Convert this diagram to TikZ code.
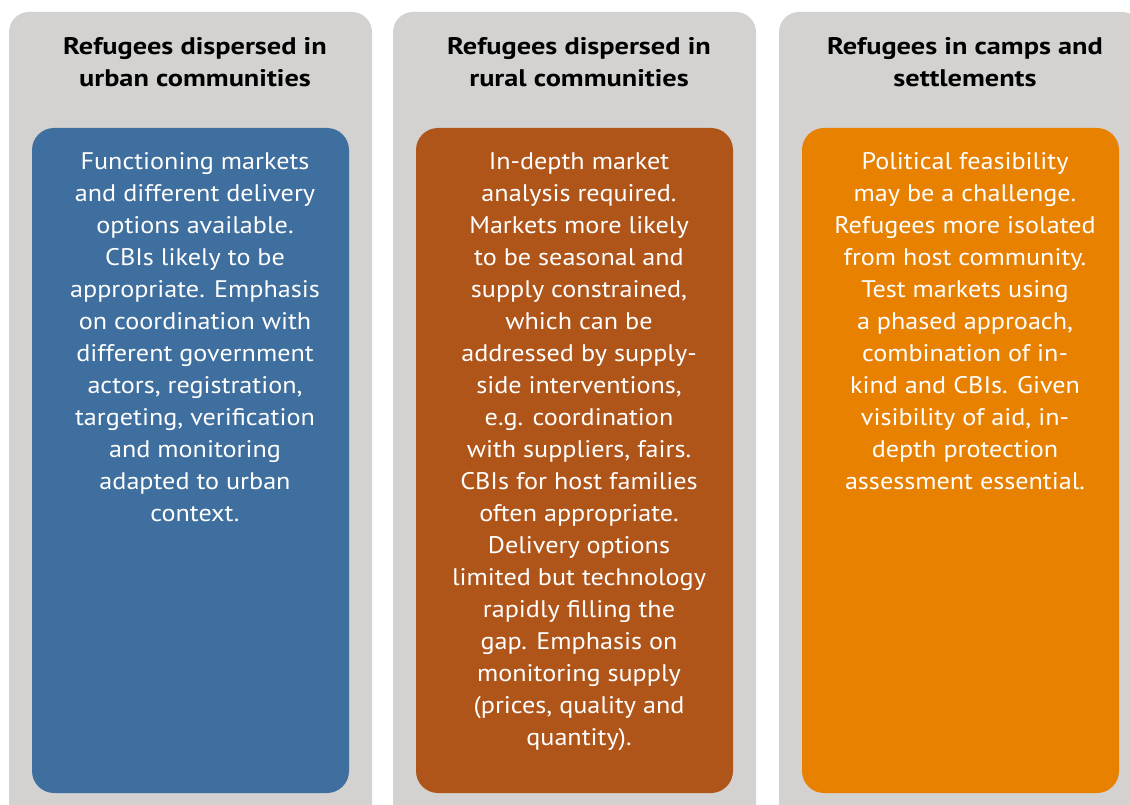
\documentclass[tikz,border=0pt]{standalone}
\usepackage{fontspec}
\setmainfont{PT Sans}[FakeStretch=1.09, BoldFeatures={FakeStretch=1.18}]
\definecolor{colgray}{HTML}{D3D2D0}
\definecolor{urbanblue}{HTML}{3F6F9E}
\definecolor{ruralrust}{HTML}{B0551A}
\definecolor{camporange}{HTML}{E88100}

\begin{document}
\begin{tikzpicture}[x=1pt,y=-1pt,
  title/.style={font=\fontsize{24}{32}\selectfont\bfseries, align=center, anchor=north, inner sep=0pt},
  body/.style={font=\fontsize{24}{32}\selectfont, text=white, align=center, anchor=north, inner sep=0pt}]

\useasboundingbox (0,0) rectangle (1130,805);
\clip (0,0) rectangle (1130,805);

% grey columns
\fill[colgray, rounded corners=20pt] (9,12) rectangle (372,830);
\fill[colgray, rounded corners=20pt] (393,12) rectangle (756,830);
\fill[colgray, rounded corners=20pt] (779,12) rectangle (1142,830);

% coloured boxes
\fill[urbanblue, rounded corners=22pt] (32,128) rectangle (349,793);
\fill[ruralrust, rounded corners=22pt] (416,128) rectangle (733,793);
\fill[camporange, rounded corners=22pt] (802,128) rectangle (1119,793);

% titles
\node (urbantitle) at (195,37.5)[title] {Refugees dispersed in\\urban communities};
\node (ruraltitle) at (579,37.5)[title] {Refugees dispersed in\\rural communities};
\node (camptitle) at (965,37.5)[title] {Refugees in camps and\\settlements};

% texts
\node (urbantext) at (195,152)[body] {Functioning markets\\and different delivery\\options available.\\CBIs likely to be\\appropriate. Emphasis\\on coordination with\\different government\\actors, registration,\\targeting, verification\\and monitoring\\adapted to urban\\context.};
\node (ruraltext) at (579,152)[body] {In-depth market\\analysis required.\\Markets more likely\\to be seasonal and\\supply constrained,\\which can be\\addressed by supply-\\side interventions,\\e.g. coordination\\with suppliers, fairs.\\CBIs for host families\\often appropriate.\\Delivery options\\limited but technology\\rapidly filling the\\gap. Emphasis on\\monitoring supply\\(prices, quality and\\quantity).};
\node (camptext) at (965,152)[body] {Political feasibility\\may be a challenge.\\Refugees more isolated\\from host community.\\Test markets using\\a phased approach,\\combination of in-\\kind and CBIs. Given\\visibility of aid, in-\\depth protection\\assessment essential.};
\end{tikzpicture}
\end{document}
